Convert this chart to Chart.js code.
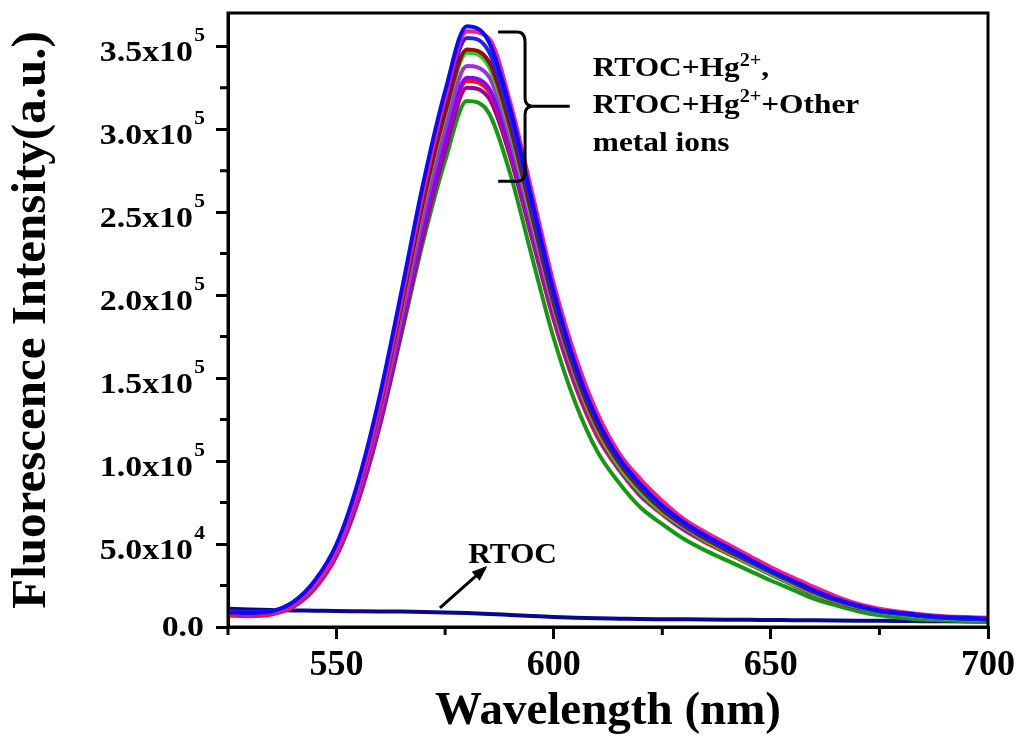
<!DOCTYPE html>
<html><head><meta charset="utf-8">
<script src="https://cdn.jsdelivr.net/npm/chart.js@4/dist/chart.umd.min.js"></script>
<style>html,body{margin:0;padding:0;background:#fff;}</style>
</head><body>
<canvas id="c" width="1020" height="746"></canvas>
<script>
// Wavelength (nm)
const wavelengths = [525,530,535,540,545,550,555,560,565,570,575,580,585,590,595,600,605,610,615,620,625,630,635,640,645,650,655,660,665,670,675,680,685,690,695,700];
// Fluorescence intensity, in thousands (a.u. / 1000)
const hgBlue1   = [9,8.5,9.5,15,28,50,88,140,203,268,323,362,353,312,257,202,158,125,102,86,73,63,55,48,41,34,28,22,17,13,10,8.5,7,6,5.5,5];
const hgPink    = [9,8,9,14,26,47,84,135,198,263,319,359,355,316,262,207,163,129,105,89,76,65,57,50,43,36,30,24,18.5,14,11,9,7.5,6.5,6,5.5];
const hgBlue2   = [9.5,9,9.5,15,27.5,49,86,137,199,263,317,355,347,307,253,199,156,124,101,85,72,62,54,47,40,33.5,27.5,21.5,16.5,12.5,9.5,8,6.5,5.5,5,4.5];
const hgDarkRed = [8.5,8,9,14,26,47,83,133,194,257,310,348,341,301,248,195,153,121,99,83,70.5,61,53,46,39.5,33,27,21,16,12.5,9.5,8,6.5,5.5,5,4.5];
const hgLime    = [9,8.5,9.5,15,27,48,84,133,193,255,308,346,338,298,245,193,151,119,97,81,69,60,52,45,38.5,32,26,20,15.5,12,9,7.5,6,5,4.5,4];
const hgPurple  = [8,7.5,8.5,13,25,45,80,128,187,248,300,338,332,294,242,191,150,118,97,81,70,60,52.5,46,39.5,33,27,21,16,12.5,9.5,8,6.5,5.5,5,4.5];
const hgViolet  = [8,7.5,8.5,13,24.5,44,78,125,183,242,293,331,325,288,238,188,148,117,96,80,69,59,52,45,39,32.5,26.5,20.5,16,12,9.5,8,6.5,5.5,5,4.5];
const hgRed     = [7,6.5,7.5,12,23,43,77,124,182,241,292,329,323,286,236,186,146,115,95,79,68,58.5,51,44.5,38,32,26,20,15.5,12,9.5,8,6.5,5.5,5,4.5];
const hgMagenta = [7.5,7,8,12.5,24,43,76,122,179,237,287,325,319,283,234,185,145,115,95,79,68,58.5,51,44.5,38,31.5,25.5,19.5,15,11.5,9,7.5,6,5,4.5,4];
const hgGreen   = [8.5,8,9,14,25,44,77,122,177,233,281,317,310,273,223,174,135,106,87,72,62,53,46,40,34,28,22.5,17,13,9.5,7,5.5,4.5,4,3.5,3];
const rtoc      = [11,10.5,10.2,10,9.8,9.6,9.5,9.4,9.3,9.1,8.8,8.4,7.9,7.3,6.7,6.1,5.6,5.2,5.0,4.8,4.7,4.6,4.5,4.4,4.3,4.2,4.1,4.0,3.9,3.8,3.7,3.6,3.5,3.4,3.3,3.2];

// Axis ticks
const xTickValues = [550,600,650,700];
const xMinorTicks = [525,575,625,675];
const yTickValues = [0,50,100,150,200,250,300,350];
const yTickLabels = ["0.0","5.0x10^4","1.0x10^5","1.5x10^5","2.0x10^5","2.5x10^5","3.0x10^5","3.5x10^5"];
const yMinorTicks = [25,75,125,175,225,275,325];

const seriesList = [
  {name:"RTOC+Hg2+ (1)", values:hgBlue1,   color:"#0a0aff"},
  {name:"RTOC+Hg2+ (2)", values:hgPink,    color:"#ff1493"},
  {name:"RTOC+Hg2+ (3)", values:hgBlue2,   color:"#2222ee"},
  {name:"RTOC+Hg2+ (4)", values:hgDarkRed, color:"#9b0a0a"},
  {name:"RTOC+Hg2+ (5)", values:hgLime,    color:"#1ed41e"},
  {name:"RTOC+Hg2+ (6)", values:hgPurple,  color:"#9a32e0"},
  {name:"RTOC+Hg2+ (7)", values:hgViolet,  color:"#8a00ff"},
  {name:"RTOC+Hg2+ (8)", values:hgRed,     color:"#ff1010"},
  {name:"RTOC+Hg2+ (9)", values:hgMagenta, color:"#990099"},
  {name:"RTOC+Hg2+ (10)",values:hgGreen,   color:"#139a13"},
  {name:"RTOC",          values:rtoc,      color:"#08088c"}
];

const datasets = seriesList.map(s => ({
  label: s.name,
  data: s.values.map((v,i) => ({x: wavelengths[i], y: v})),
  borderColor: s.color,
  backgroundColor: s.color,
  borderWidth: 4,
  pointRadius: 0,
  fill: false,
  cubicInterpolationMode: 'monotone'
}));

const SERIF = "'Liberation Serif','Times New Roman',serif";

// text helper: horizontally stretched text with optional superscript parts
function drawRich(ctx, parts, x, y, size, sx) {
  ctx.save();
  ctx.translate(x, y);
  ctx.scale(sx, 1);
  ctx.textAlign = 'left';
  ctx.textBaseline = 'alphabetic';
  let cx = 0;
  parts.forEach(p => {
    const fs = p.sup ? Math.round(size * 0.64) : size;
    ctx.font = "bold " + fs + "px " + SERIF;
    ctx.fillText(p.t, cx, p.sup ? -size * 0.36 : 0);
    cx += ctx.measureText(p.t).width;
  });
  ctx.restore();
}

const framePlugin = {
  id: 'frame',
  afterDraw(chart) {
    const {ctx, chartArea: a, scales} = chart;
    ctx.save();
    ctx.strokeStyle = '#000';
    ctx.lineWidth = 3;
    ctx.strokeRect(a.left, a.top, a.right - a.left, a.bottom - a.top);
    ctx.beginPath();
    yMinorTicks.forEach(v => {
      const y = scales.y.getPixelForValue(v);
      ctx.moveTo(a.left - 8, y); ctx.lineTo(a.left, y);
    });
    xMinorTicks.forEach(v => {
      const x = scales.x.getPixelForValue(v);
      ctx.moveTo(x, a.bottom); ctx.lineTo(x, a.bottom + 8);
    });
    ctx.stroke();
    // y tick labels with superscript exponents
    ctx.fillStyle = '#000';
    const sx = 1.13, fs = 30;
    yTickValues.forEach((v, i) => {
      const py = scales.y.getPixelForValue(v);
      const lab = yTickLabels[i];
      const k = lab.indexOf('^');
      if (k < 0) {
        ctx.save();
        ctx.font = "bold " + fs + "px " + SERIF;
        ctx.translate(a.left - 24, py + 9);
        ctx.scale(sx, 1);
        ctx.textAlign = 'right';
        ctx.fillText(lab, 0, 0);
        ctx.restore();
      } else {
        const mant = lab.slice(0, k), ex = lab.slice(k + 1);
        ctx.save();
        ctx.font = "bold " + fs + "px " + SERIF;
        ctx.translate(a.left - 35, py + 15);
        ctx.scale(sx, 1);
        ctx.textAlign = 'right';
        ctx.fillText(mant, 0, 0);
        ctx.font = "bold 19px " + SERIF;
        ctx.textAlign = 'left';
        ctx.fillText(ex, 1, -20);
        ctx.restore();
      }
    });
    ctx.restore();
  }
};

const annotationPlugin = {
  id: 'annot',
  afterDatasetsDraw(chart) {
    const {ctx, scales: {x, y}} = chart;
    ctx.save();
    ctx.strokeStyle = '#000';
    ctx.fillStyle = '#000';
    ctx.lineWidth = 3;
    // curly bracket (in data coordinates)
    const xl = x.getPixelForValue(587.2), xs = x.getPixelForValue(593.4),
          xt = x.getPixelForValue(595.2), xe = x.getPixelForValue(603.7);
    const yt = y.getPixelForValue(358.5), ym = y.getPixelForValue(313.8), yb = y.getPixelForValue(268.6);
    ctx.beginPath();
    ctx.moveTo(xl, yt);
    ctx.lineTo(xs - 8, yt);
    ctx.quadraticCurveTo(xs, yt, xs, yt + 10);
    ctx.lineTo(xs, ym - 8);
    ctx.quadraticCurveTo(xs, ym, xt, ym);
    ctx.quadraticCurveTo(xs, ym, xs, ym + 8);
    ctx.lineTo(xs, yb - 10);
    ctx.quadraticCurveTo(xs, yb, xs - 8, yb);
    ctx.lineTo(xl, yb);
    ctx.stroke();
    ctx.beginPath();
    ctx.moveTo(xt, ym); ctx.lineTo(xe, ym);
    ctx.stroke();
    // label text
    const tx = x.getPixelForValue(609.0);
    drawRich(ctx, [{t:"RTOC+Hg"},{t:"2+",sup:true},{t:","}], tx, y.getPixelForValue(332), 28, 1.12);
    drawRich(ctx, [{t:"RTOC+Hg"},{t:"2+",sup:true},{t:"+Other"}], tx, y.getPixelForValue(310), 28, 1.12);
    drawRich(ctx, [{t:"metal ions"}], tx, y.getPixelForValue(287), 28, 1.12);
    // RTOC label and arrow
    drawRich(ctx, [{t:"RTOC"}], x.getPixelForValue(580.3), y.getPixelForValue(38.6), 29, 1.08);
    const ax0 = x.getPixelForValue(573.8), ay0 = y.getPixelForValue(11.5);
    const ax1 = x.getPixelForValue(584.2), ay1 = y.getPixelForValue(35.6);
    ctx.beginPath();
    ctx.moveTo(ax0, ay0); ctx.lineTo(ax1, ay1); ctx.stroke();
    const ang = Math.atan2(ay1 - ay0, ax1 - ax0);
    const L = 14, W = 0.45;
    ctx.beginPath();
    ctx.moveTo(ax1 + 3*Math.cos(ang), ay1 + 3*Math.sin(ang));
    ctx.lineTo(ax1 - L*Math.cos(ang - W), ay1 - L*Math.sin(ang - W));
    ctx.lineTo(ax1 - L*Math.cos(ang + W), ay1 - L*Math.sin(ang + W));
    ctx.closePath();
    ctx.fill();
    ctx.restore();
  }
};

new Chart(document.getElementById('c'), {
  type: 'line',
  data: { datasets },
  options: {
    responsive: false,
    animation: false,
    devicePixelRatio: 1,
    layout: { padding: { top: 13, right: 32, left: 0, bottom: 0 } },
    plugins: { legend: { display: false }, tooltip: { enabled: false } },
    scales: {
      x: {
        type: 'linear',
        min: 525, max: 700,
        afterFit(s) { s.height = 119; },
        afterBuildTicks(s) { s.ticks = xTickValues.map(v => ({value: v})); },
        grid: { display: true, drawOnChartArea: false, drawTicks: true, tickLength: 12, lineWidth: 3, color: '#000' },
        border: { display: true, width: 3, color: '#000' },
        ticks: { color: '#000', font: { family: SERIF, size: 36, weight: 'bold' }, padding: 5, maxRotation: 0, autoSkip: false },
        title: { display: true, text: 'Wavelength (nm)', color: '#000', font: { family: SERIF, size: 47, weight: 'bold' }, padding: { top: 0, bottom: 6 } }
      },
      y: {
        type: 'linear',
        min: 0, max: 370,
        afterFit(s) { s.width = 228; },
        afterBuildTicks(s) { s.ticks = yTickValues.map(v => ({value: v})); },
        grid: { display: true, drawOnChartArea: false, drawTicks: true, tickLength: 12, lineWidth: 3, color: '#000' },
        border: { display: true, width: 3, color: '#000' },
        ticks: { display: false },
        title: { display: true, text: 'Fluorescence Intensity(a.u.)', color: '#000', font: { family: SERIF, size: 49, weight: 'bold' }, padding: { top: 3, bottom: 0 } }
      }
    }
  },
  plugins: [framePlugin, annotationPlugin]
});
</script>
</body></html>
